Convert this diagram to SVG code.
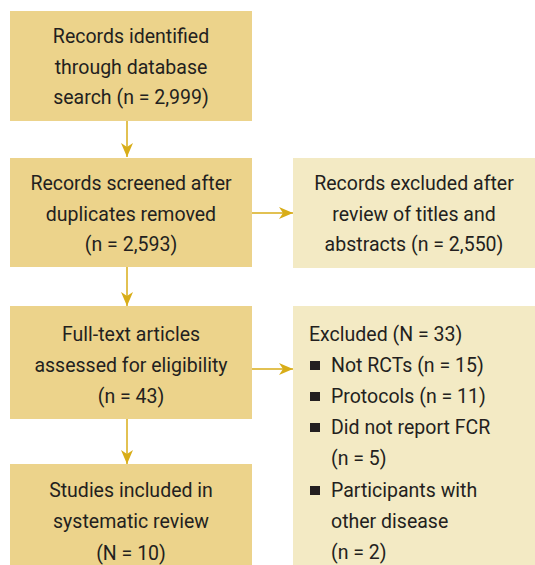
<svg xmlns="http://www.w3.org/2000/svg" width="535" height="565" viewBox="0 0 535 565">
<defs>
<style>
.dark{fill:#ECD38B}
.light{fill:#F3EAC4}
.t{font-family:"Roboto","Liberation Sans",sans-serif;font-size:21px;fill:#231F20}
.c{text-anchor:middle}
.ln{stroke:#D8AD18;stroke-width:1.5;fill:none}
.b{fill:#231F20}
</style>
<marker id="ah" markerUnits="userSpaceOnUse" markerWidth="14" markerHeight="12" refX="14" refY="6" orient="auto">
<path d="M0,0 L14,6 L0,12 L4,6 Z" fill="#D8AD18"/>
</marker>
</defs>
<rect width="535" height="565" fill="#fff"/>
<g id="connectors">
<line class="ln" x1="127" y1="121" x2="127" y2="157" marker-end="url(#ah)"/>
<line class="ln" x1="252" y1="213" x2="293" y2="213" marker-end="url(#ah)"/>
<line class="ln" x1="127" y1="267" x2="127" y2="306" marker-end="url(#ah)"/>
<line class="ln" x1="252" y1="369" x2="293" y2="369" marker-end="url(#ah)"/>
<line class="ln" x1="127" y1="419" x2="127" y2="464" marker-end="url(#ah)"/>
</g>
<g id="identified">
<rect class="dark" x="10" y="11" width="242" height="110"/>
<g transform="translate(131 0) scale(0.93 1)">
<text class="t c" x="0" y="43">Records identified</text>
<text class="t c" x="0" y="74">through database</text>
<text class="t c" x="0" y="104">search (n = 2,999)</text>
</g>
</g>
<g id="screened">
<rect class="dark" x="10" y="158" width="242" height="109"/>
<g transform="translate(131 0) scale(0.93 1)">
<text class="t c" x="0" y="190">Records screened after</text>
<text class="t c" x="0" y="221">duplicates removed</text>
<text class="t c" x="0" y="251">(n = 2,593)</text>
</g>
</g>
<g id="excluded1">
<rect class="light" x="293" y="158" width="242" height="110"/>
<g transform="translate(414 0) scale(0.93 1)">
<text class="t c" x="0" y="190">Records excluded after</text>
<text class="t c" x="0" y="221">review of titles and</text>
<text class="t c" x="0" y="251">abstracts (n = 2,550)</text>
</g>
</g>
<g id="fulltext">
<rect class="dark" x="10" y="306" width="242" height="113"/>
<g transform="translate(131 0) scale(0.93 1)">
<text class="t c" x="0" y="341">Full-text articles</text>
<text class="t c" x="0" y="372">assessed for eligibility</text>
<text class="t c" x="0" y="403">(n = 43)</text>
</g>
</g>
<g id="included">
<rect class="dark" x="10" y="464" width="242" height="101"/>
<g transform="translate(131 0) scale(0.93 1)">
<text class="t c" x="0" y="497">Studies included in</text>
<text class="t c" x="0" y="528">systematic review</text>
<text class="t c" x="0" y="560">(N = 10)</text>
</g>
</g>
<g id="excluded2">
<rect class="light" x="293" y="306" width="242" height="259"/>
<rect class="b" x="310" y="361" width="10" height="9"/>
<rect class="b" x="310" y="392" width="10" height="9"/>
<rect class="b" x="310" y="423" width="10" height="9"/>
<rect class="b" x="310" y="486" width="10" height="9"/>
<g transform="translate(309 0) scale(0.93 1)">
<text class="t" x="0" y="341">Excluded (N = 33)</text>
</g>
<g transform="translate(331 0) scale(0.93 1)">
<text class="t" x="0" y="372">Not RCTs (n = 15)</text>
<text class="t" x="0" y="403">Protocols (n = 11)</text>
<text class="t" x="0" y="434">Did not report FCR</text>
<text class="t" x="0" y="465">(n = 5)</text>
<text class="t" x="0" y="497">Participants with</text>
<text class="t" x="0" y="528">other disease</text>
<text class="t" x="0" y="559">(n = 2)</text>
</g>
</g>
</svg>
